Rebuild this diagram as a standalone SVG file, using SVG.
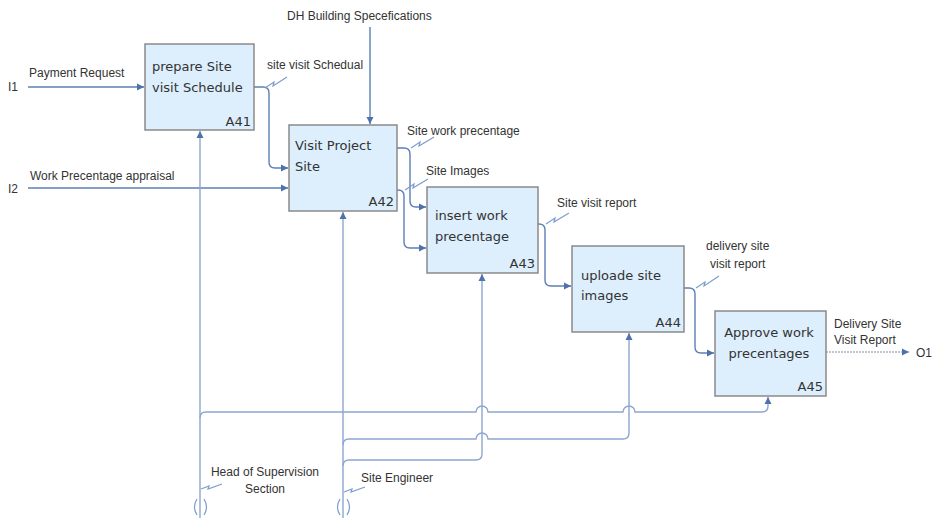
<svg xmlns="http://www.w3.org/2000/svg" width="937" height="518" viewBox="0 0 937 518">
<style>
.box{fill:#ddeefc;stroke:#8a8a8a;stroke-width:1.5}
.bt{font-family:"DejaVu Sans",sans-serif;font-size:13px;fill:#333}
.id{font-family:"DejaVu Sans",sans-serif;font-size:13px;fill:#333;text-anchor:end}
.lb{font-family:"Liberation Sans",Arial,sans-serif;font-size:12px;fill:#333}
.c{fill:none;stroke:#5d7fb5;stroke-width:1.4}
.m{fill:none;stroke:#8ea6cf;stroke-width:1.4}
.o{fill:none;stroke:#a9b4c4;stroke-width:1.4;stroke-dasharray:2 1}
.sq{fill:none;stroke:#7d9ccc;stroke-width:1.2}
</style>
<defs>
<marker id="ah" markerWidth="8" markerHeight="8" refX="7" refY="4" orient="auto" markerUnits="userSpaceOnUse">
<path d="M0,0.5 L7,4 L0,7.5 Z" fill="#4f72aa"/>
</marker>
</defs>
<rect width="937" height="518" fill="#fff"/>
<g id="connectors">
<!-- inputs -->
<text class="lb" x="8" y="91">I1</text>
<text class="lb" x="29" y="77">Payment Request</text>
<path class="c" d="M28,87 H144" marker-end="url(#ah)"/>
<text class="lb" x="8" y="193">I2</text>
<text class="lb" x="30" y="180">Work Precentage appraisal</text>
<path class="c" d="M28,188 H288" marker-end="url(#ah)"/>
<!-- control -->
<text class="lb" x="287" y="20">DH Building Specefications</text>
<path class="c" d="M370,27 V124" marker-end="url(#ah)"/>
<!-- A41 -> A42 -->
<path class="c" d="M254,87 H263 Q269,87 269,93 V162 Q269,168 275,168 H288" marker-end="url(#ah)"/>
<path class="sq" d="M265,88 l9,-6 l-1,4 l14,-9"/>
<text class="lb" x="267" y="69">site visit Schedual</text>
<!-- A42 -> A43 -->
<path class="c" d="M397,148 H404 Q410,148 410,154 V201 Q410,207 416,207 H426" marker-end="url(#ah)"/>
<path class="sq" d="M411,148 l9,-6 l-1,4 l15,-9"/>
<text class="lb" x="407" y="135">Site work precentage</text>
<path class="c" d="M397,190 H398 Q404,190 404,196 V242 Q404,248 410,248 H426" marker-end="url(#ah)"/>
<path class="sq" d="M405,190 l9,-6 l-1,4 l15,-9"/>
<text class="lb" x="426" y="175">Site Images</text>
<!-- A43 -> A44 -->
<path class="c" d="M538,224 H539 Q545,224 545,230 V280 Q545,286 551,286 H571" marker-end="url(#ah)"/>
<path class="sq" d="M546,224 l9,-6 l-1,4 l15,-9"/>
<text class="lb" x="557" y="207">Site visit report</text>
<!-- A44 -> A45 -->
<path class="c" d="M684,288 H689 Q695,288 695,294 V347 Q695,353 701,353 H714" marker-end="url(#ah)"/>
<path class="sq" d="M696,288 l9,-6 l-1,4 l15,-10"/>
<text class="lb" x="706" y="250">delivery site</text>
<text class="lb" x="710" y="268">visit report</text>
<!-- output -->
<path class="o" d="M826,352 H909" marker-end="url(#ah)"/>
<text class="lb" x="834" y="328">Delivery Site</text>
<text class="lb" x="834" y="344">Visit Report</text>
<text class="lb" x="916" y="357">O1</text>
<!-- mechanisms -->
<path class="m" d="M200,518 V131" marker-end="url(#ah)"/>
<path class="m" d="M200,418 Q200,412 206,412 H476 A6,6 0 0 1 488,412 H623 A6,6 0 0 1 635,412 H762 Q768,412 768,406 V397" marker-end="url(#ah)"/>
<path class="m" d="M343,518 V212" marker-end="url(#ah)"/>
<path class="m" d="M343,445 Q343,439 349,439 H476 A6,6 0 0 1 488,439 H623 Q629,439 629,433 V333" marker-end="url(#ah)"/>
<path class="m" d="M343,466 Q343,460 349,460 H476 Q482,460 482,454 V274" marker-end="url(#ah)"/>
<path class="sq" d="M201,489 l8,-3 l-1,3 l14,-5"/>
<path class="sq" d="M344,492 l8,-3 l-1,3 l14,-5"/>
<path class="sq" d="M197,499 Q192,507 197,515 M204,499 Q209,507 204,515"/>
<path class="sq" d="M340,499 Q335,507 340,515 M347,499 Q352,507 347,515"/>
<text class="lb" x="265" y="476" text-anchor="middle">Head of Supervision</text>
<text class="lb" x="265" y="493" text-anchor="middle">Section</text>
<text class="lb" x="361" y="482">Site Engineer</text>
</g>
<g id="A41">
<rect class="box" x="145" y="44" width="109" height="86"/>
<text class="bt" x="152" y="71">prepare Site</text>
<text class="bt" x="152" y="92">visit Schedule</text>
<text class="id" x="251" y="126">A41</text>
</g>
<g id="A42">
<rect class="box" x="289" y="125" width="108" height="86"/>
<text class="bt" x="295" y="150">Visit Project</text>
<text class="bt" x="295" y="171">Site</text>
<text class="id" x="394" y="206">A42</text>
</g>
<g id="A43">
<rect class="box" x="427" y="187" width="111" height="86"/>
<text class="bt" x="435" y="220">insert work</text>
<text class="bt" x="435" y="241">precentage</text>
<text class="id" x="535" y="268">A43</text>
</g>
<g id="A44">
<rect class="box" x="572" y="246" width="112" height="86"/>
<text class="bt" x="581" y="280">uploade site</text>
<text class="bt" x="581" y="300">images</text>
<text class="id" x="681" y="327">A44</text>
</g>
<g id="A45">
<rect class="box" x="715" y="311" width="111" height="85"/>
<text class="bt" x="769" y="337" text-anchor="middle">Approve work</text>
<text class="bt" x="769" y="358" text-anchor="middle">precentages</text>
<text class="id" x="823" y="391">A45</text>
</g>
</svg>
